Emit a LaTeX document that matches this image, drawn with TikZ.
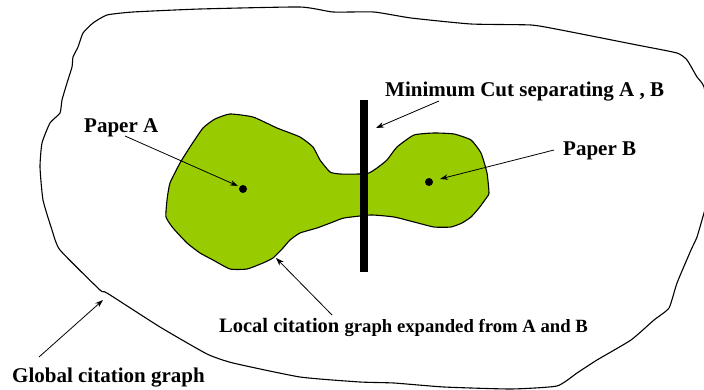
\documentclass[tikz,border=0pt]{standalone}
\usepackage{fontspec}
\setmainfont{Liberation Serif}
\usetikzlibrary{arrows.meta}
\definecolor{blobgreen}{HTML}{99CC00}
\tikzset{
  lbl/.style={inner sep=0pt, anchor=base west, font=\bfseries\fontsize{21}{24}\selectfont},
  pointer/.style={draw=black, line width=0.8pt, -{Stealth[length=8pt,width=5.5pt]}},
  outline/.style={draw=black, line width=1.1pt},
  dotmark/.style={circle, fill=black, inner sep=0pt, minimum size=8pt},
}
\begin{document}
\begin{tikzpicture}[x=1pt,y=-1pt]
\useasboundingbox (0,0) rectangle (704,390);
\fill[white] (0,0) rectangle (704,390);
% global citation graph outline
\begin{scope}
\clip (0,0) rectangle (704,390);
\draw[outline] plot[smooth cycle, tension=0.3] coordinates {
(107,15) (133,12) (200,9) (300,7) (333,12) (374,12) (411,18) (471,24) (531,25) (561,30)
(637,45) (677,53) (687,60) (697,77) (704,87) (712,130) (714,170) (708,200) (704,213)
(697,237) (691,250) (677,283) (669,308) (654,320) (631,340) (597,360) (577,373) (557,386)
(511,389) (444,387) (394,383) (360,382) (300,377) (233,363) (207,354) (160,327) (107,293)
(100,290) (60,250) (52,230) (43,200) (40,167) (42,143) (50,123) (60,113) (62,100) (67,83)
(72,67) (73,57) (78,47) (83,33) (93,23)};
\end{scope}
% local citation graph blob
\draw[outline, fill=blobgreen] plot[smooth cycle, tension=0.3] coordinates {
(230,114) (253,117) (277,128) (300,137) (313,147) (320,160) (330,172) (340,174) (360,174)
(369,173) (377,168) (387,160) (397,147) (414,135) (434,133) (454,134) (471,140) (481,153)
(487,173) (489,193) (487,197) (479,208) (471,217) (462,223) (451,227) (434,227) (414,222)
(394,217) (371,215) (344,218) (333,222) (317,228) (300,233) (290,240) (283,248) (273,258)
(263,263) (247,269) (230,269) (213,260) (200,253) (187,243) (173,228) (166,217) (167,200)
(170,183) (180,163) (190,147) (203,128) (215,119)};
% minimum cut bar
\node[fill=black, inner sep=0pt, minimum width=8pt, minimum height=172pt] (cut) at (364,186) {};
% papers
\node[dotmark] (dotA) at (243,189) {};
\node[dotmark] (dotB) at (429,182) {};
% labels
\node[lbl] (mincut) at (385,97) {Minimum Cut separating A , B};
\node[lbl] (paperA) at (84,133) {Paper A};
\node[lbl] (paperB) at (563,156) {Paper B};
\node[lbl] (local) at (219,332) {{\fontsize{20.5}{24}\selectfont Local citation} {\fontsize{18.7}{24}\selectfont graph expanded from A and B}};
\node[lbl] (global) at (12,382) {Global citation graph};
% arrow end points
\coordinate (mcT) at (439,101);
\coordinate (mcH) at (376,128);
\coordinate (paT) at (125,136);
\coordinate (paH) at (238,186);
\coordinate (pbT) at (554,150);
\coordinate (pbH) at (440,179);
\coordinate (lcT) at (332,315);
\coordinate (lcH) at (276,258);
\coordinate (gcT) at (39,357);
\coordinate (gcH) at (103,300);
\draw[pointer] (mcT) -- (mcH);
\draw[pointer] (paT) -- (paH);
\draw[pointer] (pbT) -- (pbH);
\draw[pointer] (lcT) -- (lcH);
\draw[pointer] (gcT) -- (gcH);
\end{tikzpicture}
\end{document}
